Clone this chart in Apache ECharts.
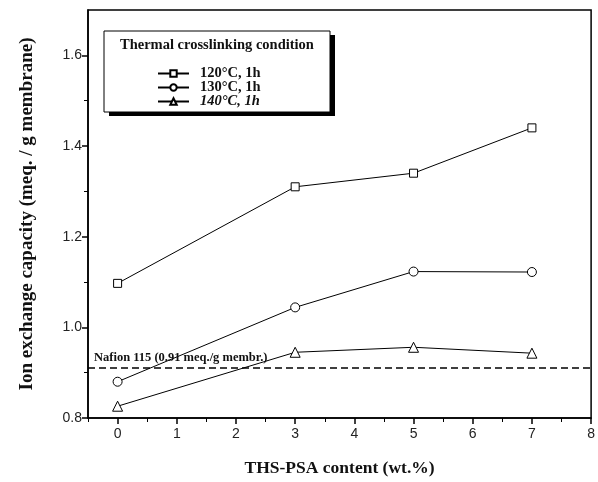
<!DOCTYPE html>
<html lang="en">
<head>
    <meta charset="UTF-8">
    <script src="https://cdn.jsdelivr.net/npm/echarts@6/dist/echarts.min.js"></script>
    <title>Ion exchange capacity</title>
    <style>
        body { margin: 0; background: #fff; }
        #main { width: 598px; height: 482px; }
    </style>
</head>
<body>
<div id="main"></div>
<script>
    // data
    var content = [0, 3, 5, 7];
    var iec120 = [1.097, 1.31, 1.34, 1.44];
    var iec130 = [0.88, 1.044, 1.123, 1.122];
    var iec140 = [0.826, 0.945, 0.956, 0.943];
    var nafion = 0.905;
    var seriesNames = ['120°C, 1h', '130°C, 1h', '140°C, 1h'];
    var xTicks = [0, 1, 2, 3, 4, 5, 6, 7, 8];
    var xMinor = [-0.5, 0.5, 1.5, 2.5, 3.5, 4.5, 5.5, 6.5, 7.5];
    var yTicks = [0.8, 1.0, 1.2, 1.4, 1.6];
    var yMinor = [0.9, 1.1, 1.3, 1.5];

    function pairs(xs, ys) {
        return xs.map(function (x, i) { return [x, ys[i]]; });
    }

    var serif = '"Liberation Serif", "DejaVu Serif", serif';
    var sans = '"Liberation Sans", Arial, sans-serif';

    var myChart = echarts.init(document.getElementById('main'));

    var lineStyle = { color: '#000', width: 1 };
    var itemStyle = { color: '#fff', borderColor: '#000', borderWidth: 1 };
    var legendText = { fontFamily: serif, fontWeight: 'bold', fontSize: 14.5, color: '#111', lineHeight: 14, padding: [0, 0, 0, 6] };

    var option = {
        backgroundColor: '#fff',
        animation: false,
        grid: {
            left: 88, right: 6, top: 10, bottom: 64,
            show: true, borderColor: '#000', borderWidth: 1.5
        },
        legend: {
            orient: 'vertical',
            left: 152, top: 61,
            itemGap: -1,
            itemWidth: 31, itemHeight: 8,
            data: seriesNames,
            formatter: function (name) {
                return name === seriesNames[2] ? '{it|' + name + '}' : '{n|' + name + '}';
            },
            textStyle: {
                fontFamily: serif, fontWeight: 'bold', fontSize: 14.5, color: '#111',
                rich: {
                    n: legendText,
                    it: Object.assign({}, legendText, { fontStyle: 'italic' })
                }
            }
        },
        graphic: [
            { type: 'rect', shape: { x: 109, y: 35, width: 226, height: 81 }, style: { fill: '#000' }, z: 1 },
            { type: 'rect', shape: { x: 104, y: 31, width: 226, height: 81 }, style: { fill: '#fff', stroke: '#000', lineWidth: 1 }, z: 2 },
            { type: 'text', left: 120, top: 38, z: 3,
              style: { text: 'Thermal crosslinking condition', font: 'bold 14.5px ' + serif, fill: '#111' } }
        ],
        xAxis: [{
            type: 'value', min: -0.5, max: 8,
            name: 'THS-PSA content (wt.%)',
            nameLocation: 'middle', nameGap: 41,
            nameTextStyle: { fontFamily: serif, fontWeight: 'bold', fontSize: 17.5, color: '#111' },
            axisLine: { show: true, onZero: false, lineStyle: { color: '#000', width: 1.5 } },
            axisTick: { show: true, inside: false, length: 6, customValues: xTicks, lineStyle: { color: '#000', width: 1.5 } },
            axisLabel: { customValues: xTicks, fontFamily: sans, fontSize: 14, color: '#222', margin: 9 },
            splitLine: { show: false }
        }, {
            type: 'value', min: -0.5, max: 8, position: 'bottom',
            axisLine: { show: false, onZero: false },
            axisTick: { show: true, inside: false, length: 4, customValues: xMinor, lineStyle: { color: '#000', width: 1 } },
            axisLabel: { show: false },
            splitLine: { show: false }
        }],
        yAxis: [{
            type: 'value', min: 0.8, max: 1.7,
            name: 'Ion exchange capacity (meq. / g membrane)',
            nameLocation: 'middle', nameGap: 51,
            nameTextStyle: { fontFamily: serif, fontWeight: 'bold', fontSize: 19, color: '#111' },
            axisLine: { show: true, onZero: false, lineStyle: { color: '#000', width: 1.5 } },
            axisTick: { show: true, inside: false, length: 6, customValues: yTicks, lineStyle: { color: '#000', width: 1.5 } },
            axisLabel: {
                customValues: yTicks, fontFamily: sans, fontSize: 14, color: '#222', margin: 6,
                formatter: function (v) { return v.toFixed(1); }
            },
            splitLine: { show: false }
        }, {
            type: 'value', min: 0.8, max: 1.7, position: 'left',
            axisLine: { show: false, onZero: false },
            axisTick: { show: true, inside: false, length: 4, customValues: yMinor, lineStyle: { color: '#000', width: 1 } },
            axisLabel: { show: false },
            splitLine: { show: false }
        }],
        series: [{
            name: seriesNames[0], type: 'line',
            data: pairs(content, iec120),
            symbol: 'rect', symbolSize: 8,
            lineStyle: lineStyle, itemStyle: itemStyle,
            markLine: {
                silent: true, symbol: 'none',
                lineStyle: { color: '#000', type: [7, 4], width: 1.5 },
                label: {
                    show: true, position: 'insideStartTop', distance: [6, 4],
                    formatter: 'Nafion 115 (0.91 meq./g membr.)',
                    fontFamily: serif, fontWeight: 'bold', fontSize: 12.5, color: '#111'
                },
                data: [{ yAxis: nafion }]
            }
        }, {
            name: seriesNames[1], type: 'line',
            data: pairs(content, iec130),
            symbol: 'circle', symbolSize: 9,
            lineStyle: lineStyle, itemStyle: itemStyle
        }, {
            name: seriesNames[2], type: 'line',
            data: pairs(content, iec140),
            symbol: 'triangle', symbolSize: 10,
            lineStyle: lineStyle, itemStyle: itemStyle
        }]
    };

    myChart.setOption(option);
</script>
</body>
</html>
